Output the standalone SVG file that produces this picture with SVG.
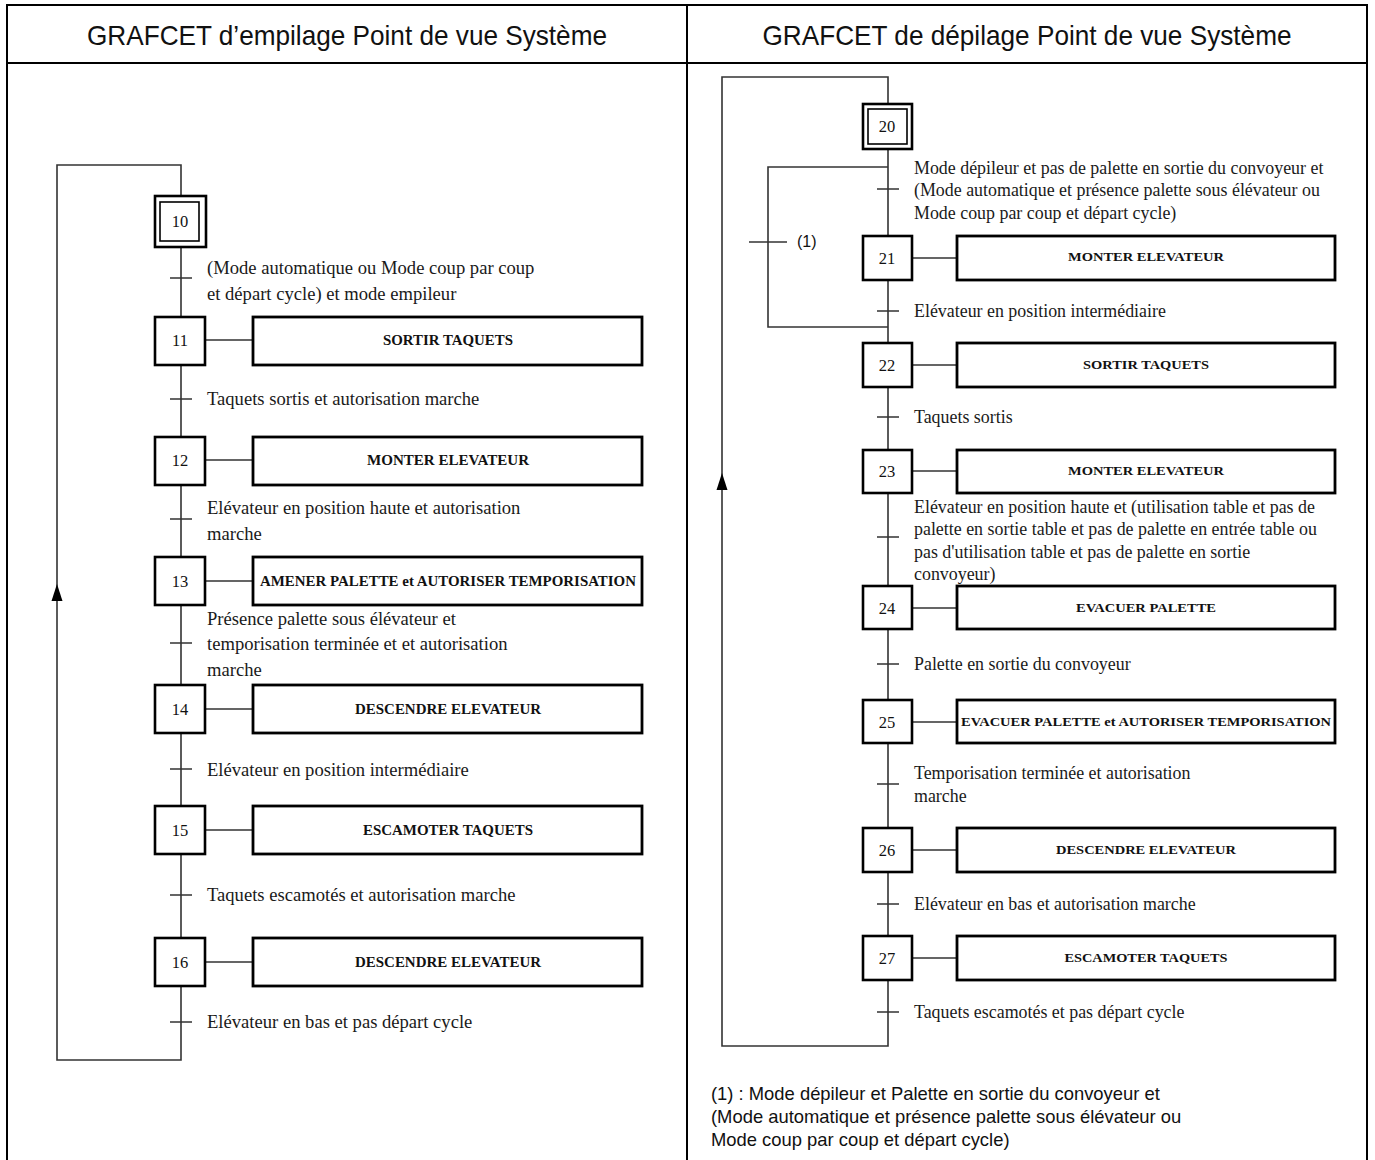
<svg xmlns="http://www.w3.org/2000/svg" width="1375" height="1160" viewBox="0 0 1375 1160">
<style>
.frame{fill:none;stroke:#000;stroke-width:2}
.hdr{font-family:"Liberation Sans",Arial,sans-serif;font-size:28px;fill:#111;text-anchor:middle}
.wire{fill:none;stroke:#333;stroke-width:1.6}
.arrow{fill:#000;stroke:none}
.step{fill:#fff;stroke:#000;stroke-width:2.6}
.istep{fill:none;stroke:#000;stroke-width:1.6}
.act{fill:#fff;stroke:#000;stroke-width:2.8}
.num{font-family:"Liberation Serif","Times New Roman",serif;font-size:16.5px;fill:#111;text-anchor:middle}
.atxt{font-family:"Liberation Serif","Times New Roman",serif;font-weight:bold;font-size:14px;fill:#111;text-anchor:middle}
.atxtR{font-family:"Liberation Serif","Times New Roman",serif;font-weight:bold;font-size:13px;fill:#111;text-anchor:middle}
.tL{font-family:"Liberation Serif","Times New Roman",serif;font-size:18.6px;fill:#1a1a1a}
.tR{font-family:"Liberation Serif","Times New Roman",serif;font-size:17.9px;fill:#1a1a1a}
.note{font-family:"Liberation Sans",Arial,sans-serif;font-size:18.4px;fill:#111}
.lbl{font-family:"Liberation Sans",Arial,sans-serif;font-size:16px;fill:#111}
</style>
<rect width="1375" height="1160" fill="#fff"/>
<g id="table">
<path class="frame" d="M7,1160 V5 H1367 V1160 M7,63 H1367 M687,5 V1160"/>
<text class="hdr" x="347" y="45" textLength="520" lengthAdjust="spacingAndGlyphs">GRAFCET d’empilage Point de vue Système</text>
<text class="hdr" x="1027" y="45" textLength="529" lengthAdjust="spacingAndGlyphs">GRAFCET de dépilage Point de vue Système</text>
</g>
<g id="connectors">
<path class="wire" d="M181,196 V165 H57 V1060 H181 V986"/>
<polygon class="arrow" points="57,584 51.5,601 62.5,601"/>
<path class="wire" d="M181,247 V317 M181,364 V437 M181,485 V557 M181,605 V685 M181,733 V806 M181,854 V938"/>
<path class="wire" d="M170,278 H192 M170,399 H192 M170,519 H192 M170,643 H192 M170,769 H192 M170,895 H192 M170,1022 H192"/>
<path class="wire" d="M206,340 H253 M206,460 H253 M206,581 H253 M206,709 H253 M206,830 H253 M206,962 H253"/>
<path class="wire" d="M888,104 V77 H722 V1046 H888 V980"/>
<polygon class="arrow" points="722,473 716.5,490 727.5,490"/>
<path class="wire" d="M888,149 V236 M888,280 V343 M888,387 V450 M888,493 V586 M888,629 V700 M888,743 V828 M888,872 V936"/>
<path class="wire" d="M888,167 H768 V327 H888"/>
<path class="wire" d="M749,242 H787"/>
<path class="wire" d="M877,189 H899 M877,311 H899 M877,417 H899 M877,537 H899 M877,664 H899 M877,784 H899 M877,904 H899 M877,1012 H899"/>
<path class="wire" d="M912,258 H957 M912,365 H957 M912,471 H957 M912,608 H957 M912,722 H957 M912,850 H957 M912,958 H957"/>
</g>
<g id="step10">
<rect class="step" x="155" y="196" width="51" height="51"/>
<rect class="istep" x="160" y="202" width="39" height="39"/>
<text class="num" x="180" y="227">10</text>
</g>
<g id="step11"><rect class="step" x="155" y="317" width="50" height="48"/><text class="num" x="180" y="346">11</text>
<rect class="act" x="253" y="317" width="389" height="48"/><text class="atxt" x="448" y="345" textLength="130" lengthAdjust="spacingAndGlyphs">SORTIR TAQUETS</text></g>
<g id="step12"><rect class="step" x="155" y="437" width="50" height="48"/><text class="num" x="180" y="466">12</text>
<rect class="act" x="253" y="437" width="389" height="48"/><text class="atxt" x="448" y="465" textLength="162" lengthAdjust="spacingAndGlyphs">MONTER ELEVATEUR</text></g>
<g id="step13"><rect class="step" x="155" y="557" width="50" height="48"/><text class="num" x="180" y="587">13</text>
<rect class="act" x="253" y="557" width="389" height="48"/><text class="atxt" x="448" y="586" textLength="376" lengthAdjust="spacingAndGlyphs">AMENER PALETTE et AUTORISER TEMPORISATION</text></g>
<g id="step14"><rect class="step" x="155" y="685" width="50" height="48"/><text class="num" x="180" y="715">14</text>
<rect class="act" x="253" y="685" width="389" height="48"/><text class="atxt" x="448" y="714" textLength="186" lengthAdjust="spacingAndGlyphs">DESCENDRE ELEVATEUR</text></g>
<g id="step15"><rect class="step" x="155" y="806" width="50" height="48"/><text class="num" x="180" y="836">15</text>
<rect class="act" x="253" y="806" width="389" height="48"/><text class="atxt" x="448" y="835" textLength="170" lengthAdjust="spacingAndGlyphs">ESCAMOTER TAQUETS</text></g>
<g id="step16"><rect class="step" x="155" y="938" width="50" height="48"/><text class="num" x="180" y="968">16</text>
<rect class="act" x="253" y="938" width="389" height="48"/><text class="atxt" x="448" y="967" textLength="186" lengthAdjust="spacingAndGlyphs">DESCENDRE ELEVATEUR</text></g>
<g id="transitionsLeft">
<text class="tL" x="207" y="274">(Mode automatique ou Mode coup par coup</text>
<text class="tL" x="207" y="300">et départ cycle) et mode empileur</text>
<text class="tL" x="207" y="405">Taquets sortis et autorisation marche</text>
<text class="tL" x="207" y="514">Elévateur en position haute et autorisation</text>
<text class="tL" x="207" y="540">marche</text>
<text class="tL" x="207" y="625">Présence palette sous élévateur et</text>
<text class="tL" x="207" y="650">temporisation terminée et et autorisation</text>
<text class="tL" x="207" y="676">marche</text>
<text class="tL" x="207" y="776">Elévateur en position intermédiaire</text>
<text class="tL" x="207" y="901">Taquets escamotés et autorisation marche</text>
<text class="tL" x="207" y="1028">Elévateur en bas et pas départ cycle</text>
</g>
<g id="step20">
<rect class="step" x="863" y="104" width="49" height="45"/>
<rect class="istep" x="868" y="109" width="39" height="35"/>
<text class="num" x="887" y="132">20</text>
</g>
<g id="step21"><rect class="step" x="863" y="236" width="49" height="44"/><text class="num" x="887" y="264">21</text>
<rect class="act" x="957" y="236" width="378" height="44"/><text class="atxtR" x="1146" y="261" textLength="156" lengthAdjust="spacingAndGlyphs">MONTER ELEVATEUR</text></g>
<g id="step22"><rect class="step" x="863" y="343" width="49" height="44"/><text class="num" x="887" y="371">22</text>
<rect class="act" x="957" y="343" width="378" height="44"/><text class="atxtR" x="1146" y="369" textLength="126" lengthAdjust="spacingAndGlyphs">SORTIR TAQUETS</text></g>
<g id="step23"><rect class="step" x="863" y="450" width="49" height="43"/><text class="num" x="887" y="477">23</text>
<rect class="act" x="957" y="450" width="378" height="43"/><text class="atxtR" x="1146" y="475" textLength="156" lengthAdjust="spacingAndGlyphs">MONTER ELEVATEUR</text></g>
<g id="step24"><rect class="step" x="863" y="586" width="49" height="43"/><text class="num" x="887" y="614">24</text>
<rect class="act" x="957" y="586" width="378" height="43"/><text class="atxtR" x="1146" y="612" textLength="140" lengthAdjust="spacingAndGlyphs">EVACUER PALETTE</text></g>
<g id="step25"><rect class="step" x="863" y="700" width="49" height="43"/><text class="num" x="887" y="728">25</text>
<rect class="act" x="957" y="700" width="378" height="43"/><text class="atxtR" x="1146" y="726" textLength="370" lengthAdjust="spacingAndGlyphs">EVACUER PALETTE et AUTORISER TEMPORISATION</text></g>
<g id="step26"><rect class="step" x="863" y="828" width="49" height="44"/><text class="num" x="887" y="856">26</text>
<rect class="act" x="957" y="828" width="378" height="44"/><text class="atxtR" x="1146" y="854" textLength="180" lengthAdjust="spacingAndGlyphs">DESCENDRE ELEVATEUR</text></g>
<g id="step27"><rect class="step" x="863" y="936" width="49" height="44"/><text class="num" x="887" y="964">27</text>
<rect class="act" x="957" y="936" width="378" height="44"/><text class="atxtR" x="1146" y="962" textLength="163" lengthAdjust="spacingAndGlyphs">ESCAMOTER TAQUETS</text></g>
<g id="transitionsRight">
<text class="lbl" x="797" y="247">(1)</text>
<text class="tR" x="914" y="174">Mode dépileur et pas de palette en sortie du convoyeur et</text>
<text class="tR" x="914" y="196">(Mode automatique et présence palette sous élévateur ou</text>
<text class="tR" x="914" y="219">Mode coup par coup et départ cycle)</text>
<text class="tR" x="914" y="317">Elévateur en position intermédiaire</text>
<text class="tR" x="914" y="423">Taquets sortis</text>
<text class="tR" x="914" y="513">Elévateur en position haute et (utilisation table et pas de</text>
<text class="tR" x="914" y="535">palette en sortie table et pas de palette en entrée table ou</text>
<text class="tR" x="914" y="558">pas d'utilisation table et pas de palette en sortie</text>
<text class="tR" x="914" y="580">convoyeur)</text>
<text class="tR" x="914" y="670">Palette en sortie du convoyeur</text>
<text class="tR" x="914" y="779">Temporisation terminée et autorisation</text>
<text class="tR" x="914" y="802">marche</text>
<text class="tR" x="914" y="910">Elévateur en bas et autorisation marche</text>
<text class="tR" x="914" y="1018">Taquets escamotés et pas départ cycle</text>
</g>
<g id="note">
<text class="note" x="711" y="1100">(1) : Mode dépileur et Palette en sortie du convoyeur et</text>
<text class="note" x="711" y="1123">(Mode automatique et présence palette sous élévateur ou</text>
<text class="note" x="711" y="1146">Mode coup par coup et départ cycle)</text>
</g>
</svg>
